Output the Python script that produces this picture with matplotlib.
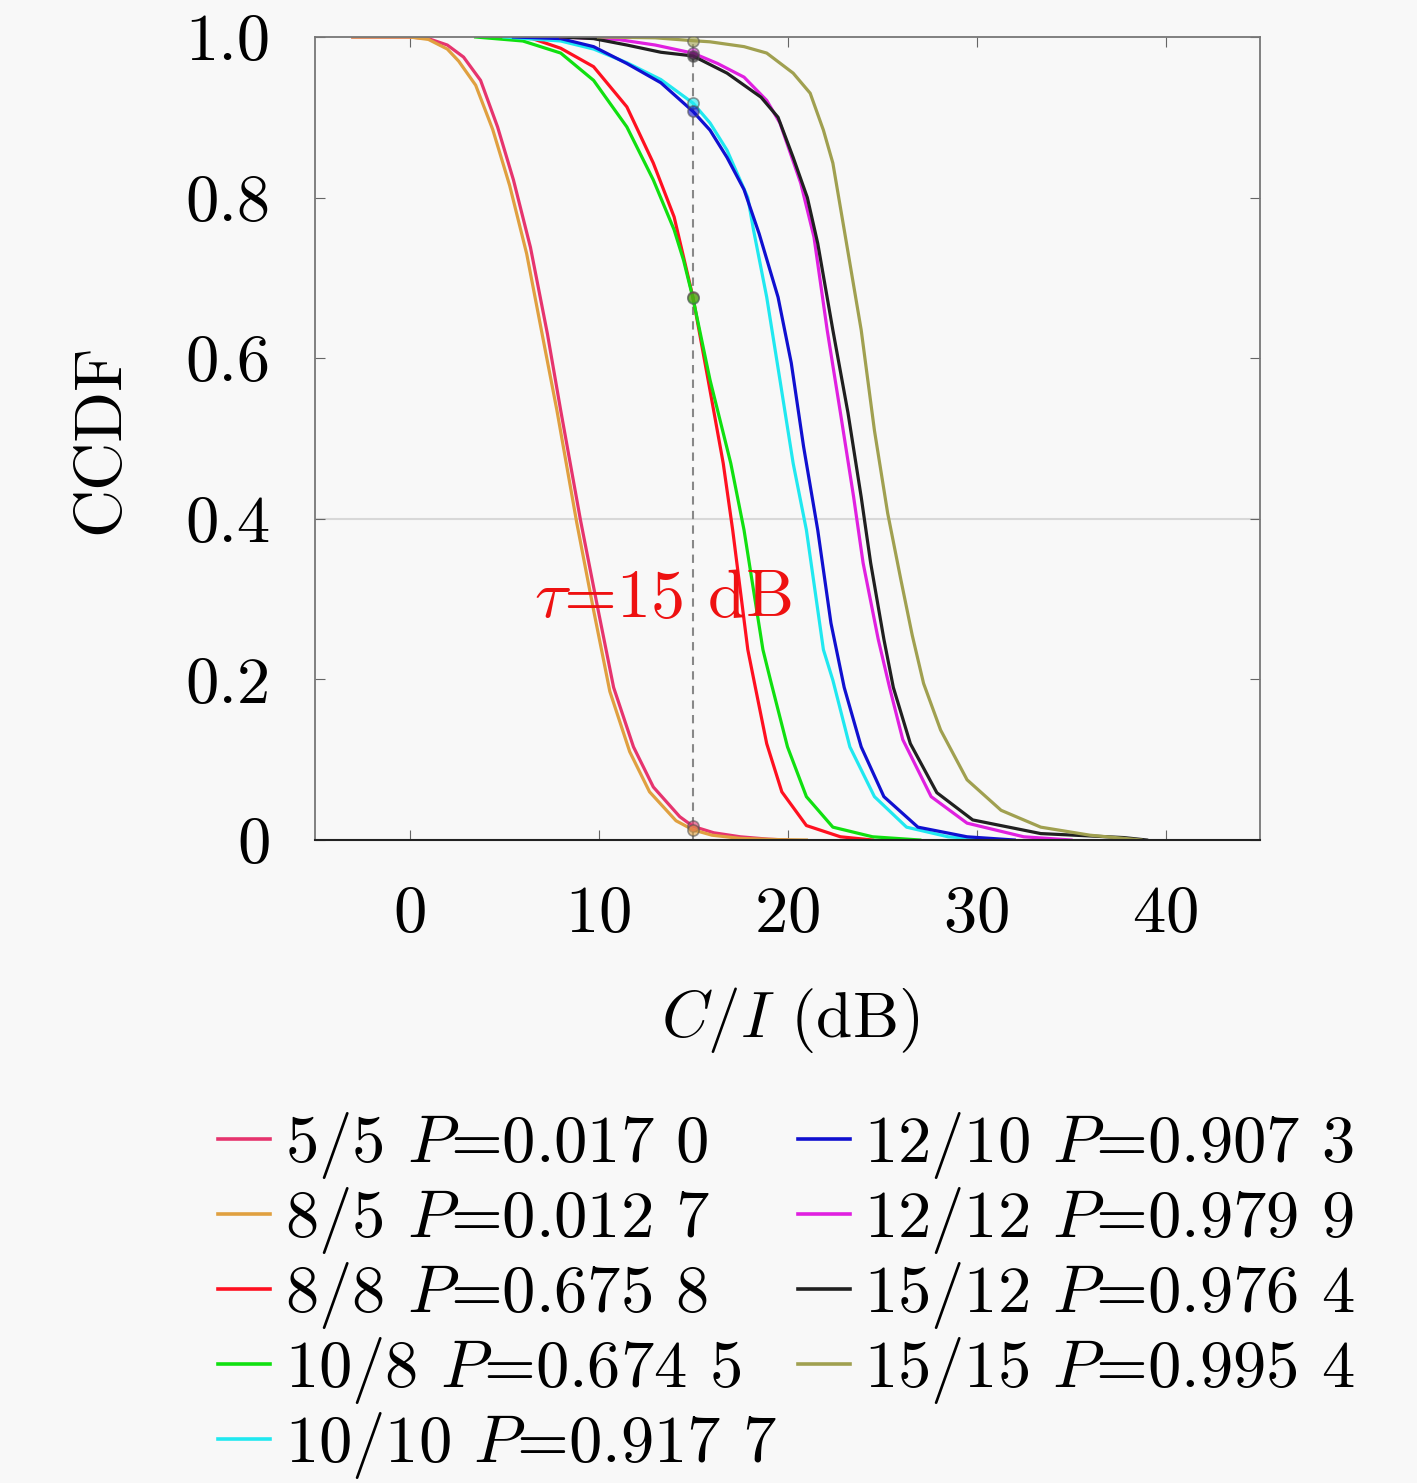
import matplotlib
matplotlib.use("Agg")
import matplotlib.pyplot as plt
from matplotlib.lines import Line2D

plt.rcParams['font.family'] = ['cmr10', 'DejaVu Serif']
plt.rcParams['mathtext.fontset'] = 'cm'
plt.rcParams['axes.formatter.use_mathtext'] = True
plt.rcParams['axes.unicode_minus'] = False

# ---------------- data ----------------
labels = ["5/5", "8/5", "8/8", "10/8", "10/10", "12/10", "12/12", "15/12", "15/15"]
p_vals = ["0.017 0", "0.012 7", "0.675 8", "0.674 5", "0.917 7",
          "0.907 3", "0.979 9", "0.976 4", "0.995 4"]
p_at_tau = [0.0170, 0.0127, 0.6758, 0.6745, 0.9177, 0.9073, 0.9799, 0.9764, 0.9954]
colors = ["#e6346e", "#e0a040", "#ff1020", "#10e010", "#20e8f0",
          "#1010d0", "#e020e0", "#202020", "#a0a050"]

x_5_5 = [-3, 0, 1, 2, 2.86, 3.76, 4.66, 5.5, 6.4, 7.3, 8.0, 9.05, 9.95, 10.8, 11.85, 12.9, 14.3, 15, 16.1, 17.5, 19, 20]
y_5_5 = [1.0, 1.0, 0.998, 0.99, 0.975, 0.946, 0.888, 0.822, 0.738, 0.63, 0.535, 0.398, 0.29, 0.19, 0.116, 0.066, 0.029, 0.017, 0.009, 0.004, 0.001, 0.0]

x_8_5 = [-3, 0, 1, 2, 2.6, 3.5, 4.4, 5.3, 6.2, 7.1, 7.8, 8.85, 9.75, 10.6, 11.65, 12.7, 14.1, 15, 16, 17.5, 19.5, 21]
y_8_5 = [1.0, 1.0, 0.997, 0.985, 0.97, 0.94, 0.885, 0.815, 0.73, 0.62, 0.535, 0.395, 0.285, 0.185, 0.11, 0.06, 0.024, 0.0127, 0.006, 0.002, 0.0005, 0.0]

x_8_8 = [4.0, 6.5, 8.0, 9.74, 11.5, 12.9, 14.0, 14.5, 15.0, 15.8, 16.6, 17.1, 17.9, 18.3, 18.9, 19.7, 21.0, 22.8, 24.5]
y_8_8 = [1.0, 0.998, 0.986, 0.963, 0.913, 0.843, 0.776, 0.726, 0.6758, 0.573, 0.469, 0.386, 0.237, 0.19, 0.12, 0.06, 0.018, 0.004, 0.0]

x_10_8 = [3.5, 6.0, 8.0, 9.74, 11.5, 12.9, 14.0, 14.5, 15.0, 15.9, 17.0, 17.7, 18.7, 19.1, 20.0, 21.0, 22.4, 24.5, 27.0]
y_10_8 = [1.0, 0.995, 0.98, 0.946, 0.888, 0.822, 0.76, 0.722, 0.6745, 0.573, 0.469, 0.386, 0.237, 0.199, 0.116, 0.054, 0.016, 0.004, 0.0]

x_10_10 = [5.0, 8.0, 9.74, 11.5, 13.3, 15.0, 15.9, 16.8, 17.9, 18.2, 18.9, 19.6, 20.3, 21.0, 21.9, 22.4, 23.3, 24.6, 26.3, 28.5, 31.0]
y_10_10 = [1.0, 0.995, 0.985, 0.968, 0.947, 0.9177, 0.893, 0.859, 0.80, 0.76, 0.676, 0.573, 0.469, 0.386, 0.237, 0.199, 0.116, 0.054, 0.016, 0.004, 0.0]

x_12_10 = [5.5, 8.0, 9.74, 11.5, 13.3, 15.0, 15.9, 16.8, 17.7, 18.5, 19.5, 20.2, 20.85, 21.6, 22.3, 23.0, 23.9, 25.1, 26.9, 29.5, 32.0]
y_12_10 = [1.0, 0.998, 0.988, 0.967, 0.943, 0.9073, 0.884, 0.85, 0.81, 0.755, 0.676, 0.594, 0.49, 0.386, 0.27, 0.19, 0.116, 0.054, 0.016, 0.004, 0.0]

x_12_12 = [8.0, 11.0, 13.0, 15.0, 16.3, 17.7, 18.9, 19.6, 20.7, 21.4, 22.1, 22.8, 23.5, 24.0, 24.8, 25.4, 26.1, 27.6, 29.5, 32.5, 35.0]
y_12_12 = [1.0, 0.997, 0.99, 0.9799, 0.967, 0.95, 0.921, 0.893, 0.818, 0.751, 0.635, 0.532, 0.427, 0.345, 0.25, 0.19, 0.125, 0.054, 0.021, 0.004, 0.0]

x_15_12 = [8.0, 9.74, 11.5, 13.3, 15.0, 16.8, 18.6, 19.5, 20.3, 21.05, 21.6, 22.4, 23.2, 23.9, 24.4, 25.1, 25.6, 26.5, 27.9, 29.8, 33.4, 37.8, 39.0]
y_15_12 = [1.0, 0.998, 0.99, 0.981, 0.9764, 0.955, 0.925, 0.90, 0.85, 0.80, 0.743, 0.635, 0.532, 0.427, 0.345, 0.25, 0.19, 0.12, 0.059, 0.025, 0.008, 0.003, 0.0]

x_15_15 = [10.0, 13.0, 15.0, 15.9, 17.7, 18.9, 20.3, 21.2, 21.9, 22.4, 23.0, 23.9, 24.6, 25.3, 26.0, 26.6, 27.2, 28.1, 29.5, 31.3, 33.4, 36.0, 38.7]
y_15_15 = [1.0, 0.999, 0.9954, 0.994, 0.988, 0.98, 0.955, 0.93, 0.884, 0.843, 0.76, 0.635, 0.51, 0.407, 0.324, 0.255, 0.195, 0.137, 0.075, 0.037, 0.016, 0.006, 0.0]

xs = [x_5_5, x_8_5, x_8_8, x_10_8, x_10_10, x_12_10, x_12_12, x_15_12, x_15_15]
ys = [y_5_5, y_8_5, y_8_8, y_10_8, y_10_10, y_12_10, y_12_12, y_15_12, y_15_15]

tau = 15
xticks = [0, 10, 20, 30, 40]
yticks = [0, 0.2, 0.4, 0.6, 0.8, 1.0]
yticklabels = ["0", "0.2", "0.4", "0.6", "0.8", "1.0"]

# ---------------- figure ----------------
bg = "#f8f8f8"
fig = plt.figure(figsize=(14.17, 14.83), dpi=100, facecolor=bg)
ax = fig.add_axes([315/1417, 1-840/1483, 945/1417, 803/1483])
ax.set_facecolor(bg)

ax.axhline(0.4, color="#d8d8d8", lw=1.5, zorder=0)

handles = []
for x, y, c, lab, pv in zip(xs, ys, colors, labels, p_vals):
    ax.plot(x, y, color=c, lw=2.3, zorder=2, solid_joinstyle="round")
    handles.append(Line2D([], [], color=c, lw=2.6,
                          label=lab + " $P$=" + pv))

ax.plot([tau, tau], [0, 1], color="#888888", lw=1.5, ls=(0, (4, 3)), zorder=1)
for pv, c in zip(p_at_tau, colors):
    ax.plot([tau], [pv], marker="o", ms=8, mfc=c, mec="#555555", mew=1.2,
            alpha=0.6, zorder=3)

ax.text(6.6, 0.30, r"$\tau$=15 dB", color="#ee1111", fontsize=49,
        ha="left", va="center", zorder=4)

ax.set_xlim(-5, 45)
ax.set_ylim(0, 1)
ax.set_xticks(xticks)
ax.set_yticks(yticks)
ax.set_yticklabels(yticklabels)
ax.tick_params(axis="both", which="both", direction="in", length=7,
               color="#666666", labelsize=48, top=True, right=True)
ax.tick_params(axis="x", pad=33)
ax.tick_params(axis="y", pad=32)
for s in ["top", "right", "left"]:
    ax.spines[s].set_color("#777777")
    ax.spines[s].set_linewidth(1.3)
ax.spines["bottom"].set_color("#222222")
ax.spines["bottom"].set_linewidth(1.5)

ax.set_xlabel(r"$C/I$ (dB)", fontsize=47)
ax.set_ylabel("CCDF", fontsize=48)
ax.xaxis.set_label_coords(0.503, -0.181)
ax.yaxis.set_label_coords(-0.194, 0.5)

fig.legend(handles=handles, ncol=2, loc="upper left",
           bbox_to_anchor=(218/1417, 1-1110/1483), frameon=False,
           fontsize=48, handlelength=0.78, handletextpad=0.22,
           columnspacing=0.32, labelspacing=0.06, borderpad=0, borderaxespad=0)

fig.savefig("out.png", dpi=100, facecolor=bg)
